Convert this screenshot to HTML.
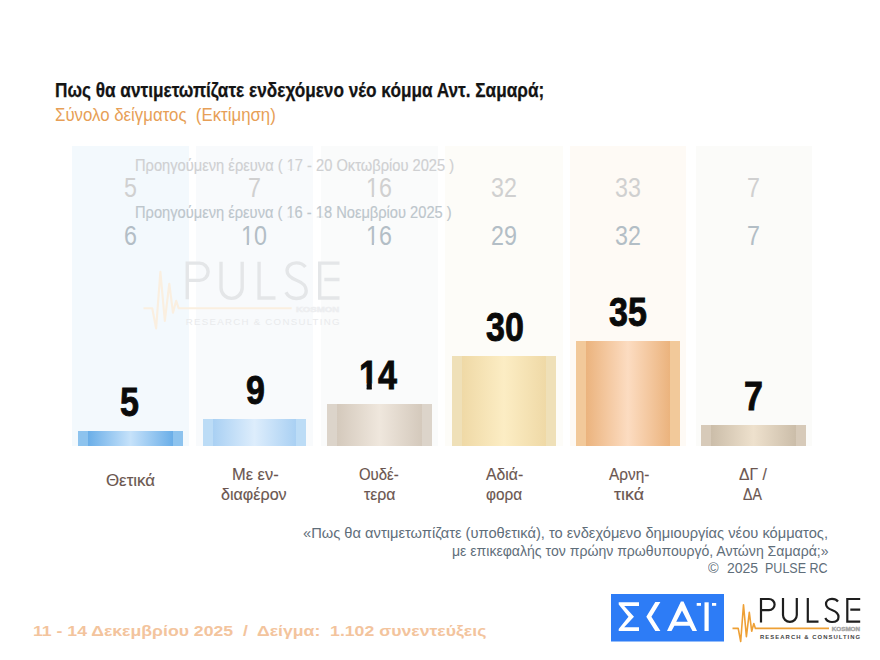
<!DOCTYPE html>
<html><head><meta charset="utf-8"><style>
html,body{margin:0;padding:0;background:#fff}
#p{position:relative;width:880px;height:660px;overflow:hidden;background:#fff}
.t{position:absolute;white-space:pre;font-family:'Liberation Sans', sans-serif;transform-origin:0 0}
.col{position:absolute;top:146px;width:117px;height:300px}
.bar{position:absolute;width:104.2px}
.ob,.or{display:inline-block;line-height:inherit}
.ob{clip-path:polygon(-10% -10%,110% -10%,110% 70.5%,67.5% 70.5%,67.5% 110%,40.3% 110%,40.3% 70.5%,-10% 70.5%)}
.or{clip-path:polygon(-10% -10%,110% -10%,110% 74%,61.5% 74%,61.5% 110%,44.5% 110%,44.5% 74%,-10% 74%)}
svg{position:absolute;left:0;top:0}
</style></head><body><div id="p">
<div class=col style="left:72.0px;width:116.6px;background:#f3f9fd"></div><div class=col style="left:195.8px;width:117.4px;background:#f8fafc"></div><div class=col style="left:320.5px;width:117.6px;background:#fafbfb"></div><div class=col style="left:445.4px;width:117.6px;background:#fdfcf8"></div><div class=col style="left:570.0px;width:116.0px;background:#fefaf5"></div><div class=col style="left:695.7px;width:116.3px;background:#fbfbf9"></div><div class=bar style="left:78.0px;width:104.5px;top:431px;height:15px;background:linear-gradient(to right,#8dc3ee 0,#8dc3ee 9.5%,#6aaee8 9.5%,#c6e2fa 50%,#6aaee8 90.5%,#8dc3ee 90.5%,#8dc3ee 100%)"></div><div class=bar style="left:203.0px;width:103.2px;top:419px;height:27px;background:linear-gradient(to right,#bcdcf6 0,#bcdcf6 9.5%,#a9d0f3 9.5%,#ddedfc 50%,#a9d0f3 90.5%,#bcdcf6 90.5%,#bcdcf6 100%)"></div><div class=bar style="left:327.4px;width:104.2px;top:404px;height:42px;background:linear-gradient(to right,#dcd4ca 0,#dcd4ca 9.5%,#d4c9bc 9.5%,#efe7dd 50%,#d4c9bc 90.5%,#dcd4ca 90.5%,#dcd4ca 100%)"></div><div class=bar style="left:452.0px;width:104.0px;top:356px;height:90px;background:linear-gradient(to right,#efe0b8 0,#efe0b8 9.5%,#efd9a6 9.5%,#fcedc4 50%,#efd9a6 90.5%,#efe0b8 90.5%,#efe0b8 100%)"></div><div class=bar style="left:576.0px;width:104.4px;top:341px;height:105px;background:linear-gradient(to right,#f2c99a 0,#f2c99a 9.5%,#ebb37d 9.5%,#fcdcc1 50%,#ebb37d 90.5%,#f2c99a 90.5%,#f2c99a 100%)"></div><div class=bar style="left:701.1px;width:104.6px;top:425px;height:21px;background:linear-gradient(to right,#d7cab9 0,#d7cab9 9.5%,#cbbda9 9.5%,#eee1cd 50%,#cbbda9 90.5%,#d7cab9 90.5%,#d7cab9 100%)"></div>
<svg width="880" height="660" viewBox="0 0 880 660"><g transform="translate(143.5,308.3) scale(1.535)"><path d="M28.5,-5.9 V-29.4 H36.5 A5.6,5.6 0 0 1 36.5,-18.2 H28.5" fill="none" stroke="#e4e6e8" stroke-width="2.2"/>
<path d="M50.5,-30.4 V-13.4 A6.9,6.9 0 0 0 64.3,-13.4 V-30.4" fill="none" stroke="#e4e6e8" stroke-width="2.2"/>
<path d="M75.3,-30.4 V-6.7 H86" fill="none" stroke="#e4e6e8" stroke-width="2.2"/>
<path d="M105.5,-26.9 C104,-28.9 102,-29.6 99.5,-29.6 C96,-29.6 93.5,-27.4 93.5,-24.4 C93.5,-20.9 96.5,-19.4 100,-18.1 C104,-16.6 106,-14.9 106,-11.4 C106,-8.1 103.3,-6.4 99.5,-6.4 C96.5,-6.4 94,-7.9 92.8,-10.4" fill="none" stroke="#e4e6e8" stroke-width="2.2"/>
<path d="M127.7,-29.4 H114.8 V-6.7 H127.7 M117.8,-18.8 H127.7" fill="none" stroke="#e4e6e8" stroke-width="2.2"/>
<path d="M0,0 H5.7 L8.2,13.1 L11,-23.7 L13.9,8.2 L16.8,-16 L19.2,2.8 L21.3,-4.9 L22.9,0 H96.5" fill="none" stroke="#faefe0" stroke-width="1.4" stroke-linejoin="round"/>
<text x="99.3" y="2.1" font-family="Liberation Sans" font-weight="700" font-size="5.2" fill="#edeef0" stroke="#edeef0" stroke-width="0.35" textLength="28.2" lengthAdjust="spacingAndGlyphs">KOSMON</text>
<text x="27.5" y="10.6" font-family="Liberation Sans" font-weight="400" font-size="6.3" fill="#e9eaec" textLength="100.2" lengthAdjust="spacing">RESEARCH &amp; CONSULTING</text></g></svg>
<div class=t style="left:55.14px;top:80.00px;font-size:20px;line-height:20px;font-weight:700;color:#141414;transform:scaleX(0.8604);-webkit-text-stroke:0.25px #141414">Πως θα αντιμετωπίζατε ενδεχόμενο νέο κόμμα Αντ. Σαμαρά;</div><div class=t style="left:55.11px;top:104.55px;font-size:19px;line-height:19px;font-weight:400;color:#e79f57;transform:scaleX(0.8851);">Σύνολο δείγματος  (Εκτίμηση)</div><div class=t style="left:135.08px;top:157.90px;font-size:16px;line-height:16px;font-weight:400;color:#cfd0d2;transform:scaleX(0.9171);-webkit-text-stroke:0.15px #cfd0d2">Προηγούμενη έρευνα ( <span class=or>1</span>7 - 20 Οκτωβρίου 2025 )</div><div class=t style="left:135.08px;top:205.40px;font-size:16px;line-height:16px;font-weight:400;color:#bdc6cc;transform:scaleX(0.9157);-webkit-text-stroke:0.15px #bdc6cc">Προηγούμενη έρευνα ( <span class=or>1</span>6 - <span class=or>1</span>8 Νοεμβρίου 2025 )</div><div class=t style="left:123.61px;top:174.40px;font-size:28px;line-height:28px;font-weight:400;color:#d0d0d0;transform:scaleX(0.8300);">5</div><div class=t style="left:123.61px;top:222.20px;font-size:28px;line-height:28px;font-weight:400;color:#b3bec6;transform:scaleX(0.8300);">6</div><div class=t style="left:120.26px;top:381.23px;font-size:41.5px;line-height:41.5px;font-weight:700;color:#0a0a0a;transform:scaleX(0.8200);-webkit-text-stroke:0.9px #0a0a0a">5</div><div class=t style="left:247.96px;top:174.40px;font-size:28px;line-height:28px;font-weight:400;color:#d0d0d0;transform:scaleX(0.8300);">7</div><div class=t style="left:241.32px;top:222.20px;font-size:28px;line-height:28px;font-weight:400;color:#b3bec6;transform:scaleX(0.8300);"><span class=or>1</span>0</div><div class=t style="left:245.67px;top:369.23px;font-size:41.5px;line-height:41.5px;font-weight:700;color:#0a0a0a;transform:scaleX(0.8200);-webkit-text-stroke:0.9px #0a0a0a">9</div><div class=t style="left:366.22px;top:174.40px;font-size:28px;line-height:28px;font-weight:400;color:#d0d0d0;transform:scaleX(0.8300);"><span class=or>1</span>6</div><div class=t style="left:366.22px;top:222.20px;font-size:28px;line-height:28px;font-weight:400;color:#b3bec6;transform:scaleX(0.8300);"><span class=or>1</span>6</div><div class=t style="left:359.41px;top:354.23px;font-size:41.5px;line-height:41.5px;font-weight:700;color:#0a0a0a;transform:scaleX(0.8200);-webkit-text-stroke:0.9px #0a0a0a"><span class=ob>1</span>4</div><div class=t style="left:491.13px;top:174.40px;font-size:28px;line-height:28px;font-weight:400;color:#d0d0d0;transform:scaleX(0.8300);">32</div><div class=t style="left:491.13px;top:222.20px;font-size:28px;line-height:28px;font-weight:400;color:#b3bec6;transform:scaleX(0.8300);">29</div><div class=t style="left:485.65px;top:306.23px;font-size:41.5px;line-height:41.5px;font-weight:700;color:#0a0a0a;transform:scaleX(0.8200);-webkit-text-stroke:0.9px #0a0a0a">30</div><div class=t style="left:615.34px;top:174.40px;font-size:28px;line-height:28px;font-weight:400;color:#d0d0d0;transform:scaleX(0.8300);">33</div><div class=t style="left:615.34px;top:222.20px;font-size:28px;line-height:28px;font-weight:400;color:#b3bec6;transform:scaleX(0.8300);">32</div><div class=t style="left:609.24px;top:291.23px;font-size:41.5px;line-height:41.5px;font-weight:700;color:#0a0a0a;transform:scaleX(0.8200);-webkit-text-stroke:0.9px #0a0a0a">35</div><div class=t style="left:746.76px;top:174.40px;font-size:28px;line-height:28px;font-weight:400;color:#d0d0d0;transform:scaleX(0.8300);">7</div><div class=t style="left:746.76px;top:222.20px;font-size:28px;line-height:28px;font-weight:400;color:#b3bec6;transform:scaleX(0.8300);">7</div><div class=t style="left:743.77px;top:375.23px;font-size:41.5px;line-height:41.5px;font-weight:700;color:#0a0a0a;transform:scaleX(0.8200);-webkit-text-stroke:0.9px #0a0a0a">7</div><div class=t style="left:105.70px;top:471.55px;font-size:17px;line-height:17px;font-weight:400;color:#6b5650;transform:scaleX(0.9918);-webkit-text-stroke:0.15px #6b5650">Θετικά</div><div class=t style="left:231.63px;top:465.55px;font-size:17px;line-height:17px;font-weight:400;color:#6b5650;transform:scaleX(0.9681);-webkit-text-stroke:0.15px #6b5650">Με εν-</div><div class=t style="left:221.30px;top:485.55px;font-size:17px;line-height:17px;font-weight:400;color:#6b5650;transform:scaleX(0.9478);-webkit-text-stroke:0.15px #6b5650">διαφέρον</div><div class=t style="left:359.20px;top:465.55px;font-size:17px;line-height:17px;font-weight:400;color:#6b5650;transform:scaleX(0.8778);-webkit-text-stroke:0.15px #6b5650">Ουδέ-</div><div class=t style="left:364.30px;top:485.55px;font-size:17px;line-height:17px;font-weight:400;color:#6b5650;transform:scaleX(0.9324);-webkit-text-stroke:0.15px #6b5650">τερα</div><div class=t style="left:485.90px;top:465.55px;font-size:17px;line-height:17px;font-weight:400;color:#6b5650;transform:scaleX(0.9300);-webkit-text-stroke:0.15px #6b5650">Αδιά-</div><div class=t style="left:485.90px;top:485.55px;font-size:17px;line-height:17px;font-weight:400;color:#6b5650;transform:scaleX(0.9025);-webkit-text-stroke:0.15px #6b5650">φορα</div><div class=t style="left:608.90px;top:465.55px;font-size:17px;line-height:17px;font-weight:400;color:#6b5650;transform:scaleX(0.9045);-webkit-text-stroke:0.15px #6b5650">Αρνη-</div><div class=t style="left:614.00px;top:485.55px;font-size:17px;line-height:17px;font-weight:400;color:#6b5650;transform:scaleX(1.0464);-webkit-text-stroke:0.15px #6b5650">τικά</div><div class=t style="left:738.70px;top:465.55px;font-size:17px;line-height:17px;font-weight:400;color:#6b5650;transform:scaleX(0.9226);-webkit-text-stroke:0.15px #6b5650">ΔΓ /</div><div class=t style="left:743.10px;top:485.55px;font-size:17px;line-height:17px;font-weight:400;color:#6b5650;transform:scaleX(0.8304);-webkit-text-stroke:0.15px #6b5650">ΔΑ</div><div class=t style="left:303.05px;top:525.33px;font-size:15.5px;line-height:15.5px;font-weight:400;color:#5f6e7a;transform:scaleX(0.9467);">«Πως θα αντιμετωπίζατε (υποθετικά), το ενδεχόμενο δημιουργίας νέου κόμματος,</div><div class=t style="left:451.59px;top:543.03px;font-size:15.5px;line-height:15.5px;font-weight:400;color:#5f6e7a;transform:scaleX(0.9080);">με επικεφαλής τον πρώην πρωθυπουργό, Αντώνη Σαμαρά;»</div><div class=t style="left:707.50px;top:559.73px;font-size:15.5px;line-height:15.5px;font-weight:400;color:#5f6e7a;transform:scaleX(0.9333);">©</div><div class=t style="left:727.00px;top:559.73px;font-size:15.5px;line-height:15.5px;font-weight:400;color:#5f6e7a;transform:scaleX(0.9029);">2025</div><div class=t style="left:765.19px;top:559.73px;font-size:15.5px;line-height:15.5px;font-weight:400;color:#5f6e7a;transform:scaleX(0.8079);">PULSE RC</div><div class=t style="left:32.84px;top:623.08px;font-size:15.2px;line-height:15.2px;font-weight:700;color:#f3c49d;transform:scaleX(1.1620);">11 - 14 Δεκεμβρίου 2025  /  Δείγμα:  1.102 συνεντεύξεις</div>
<svg width="880" height="660" viewBox="0 0 880 660">
<rect x="611" y="594" width="113" height="47.5" fill="#2d7cf6"/>
<polygon fill="#fff" points="618.7,602.3 639,602.3 639,606 624.2,606 634,616.7 624.2,627.2 639,627.2 639,631 618.7,631 618.7,629 628.5,616.7 618.7,604.5"/>
<polygon fill="#fff" points="655.3,602 660.4,602 651.4,616.7 660.4,631 655.3,631 646.3,616.7"/>
<path fill="#fff" fill-rule="evenodd" d="M680.9,601.5 H683.5 L697,631 H692.5 L689.6,625.8 H674.4 L671.5,631 H667 Z M682,610.6 L687.8,621.8 H676.2 Z"/>
<rect fill="#fff" x="704.5" y="602.3" width="4.2" height="28.7"/>
<rect fill="#fff" x="696.7" y="603" width="4.3" height="2.8"/>
<rect fill="#fff" x="712" y="603" width="4.2" height="2.8"/>
<g transform="translate(732.5,628.4)"><path d="M28.5,-5.9 V-29.4 H36.5 A5.6,5.6 0 0 1 36.5,-18.2 H28.5" fill="none" stroke="#1e1e1e" stroke-width="2.2"/>
<path d="M50.5,-30.4 V-13.4 A6.9,6.9 0 0 0 64.3,-13.4 V-30.4" fill="none" stroke="#1e1e1e" stroke-width="2.2"/>
<path d="M75.3,-30.4 V-6.7 H86" fill="none" stroke="#1e1e1e" stroke-width="2.2"/>
<path d="M105.5,-26.9 C104,-28.9 102,-29.6 99.5,-29.6 C96,-29.6 93.5,-27.4 93.5,-24.4 C93.5,-20.9 96.5,-19.4 100,-18.1 C104,-16.6 106,-14.9 106,-11.4 C106,-8.1 103.3,-6.4 99.5,-6.4 C96.5,-6.4 94,-7.9 92.8,-10.4" fill="none" stroke="#1e1e1e" stroke-width="2.2"/>
<path d="M127.7,-29.4 H114.8 V-6.7 H127.7 M117.8,-18.8 H127.7" fill="none" stroke="#1e1e1e" stroke-width="2.2"/>
<path d="M0,0 H5.7 L8.2,13.1 L11,-23.7 L13.9,8.2 L16.8,-16 L19.2,2.8 L21.3,-4.9 L22.9,0 H96.5" fill="none" stroke="#eea035" stroke-width="1.6" stroke-linejoin="round"/>
<text x="99.3" y="2.1" font-family="Liberation Sans" font-weight="700" font-size="5.2" fill="#a3a3a3" stroke="#a3a3a3" stroke-width="0.35" textLength="28.2" lengthAdjust="spacingAndGlyphs">KOSMON</text>
<text x="27.5" y="10.6" font-family="Liberation Sans" font-weight="700" font-size="5.9" fill="#444444" textLength="100.2" lengthAdjust="spacing">RESEARCH &amp; CONSULTING</text></g>
</svg>
</div></body></html>
